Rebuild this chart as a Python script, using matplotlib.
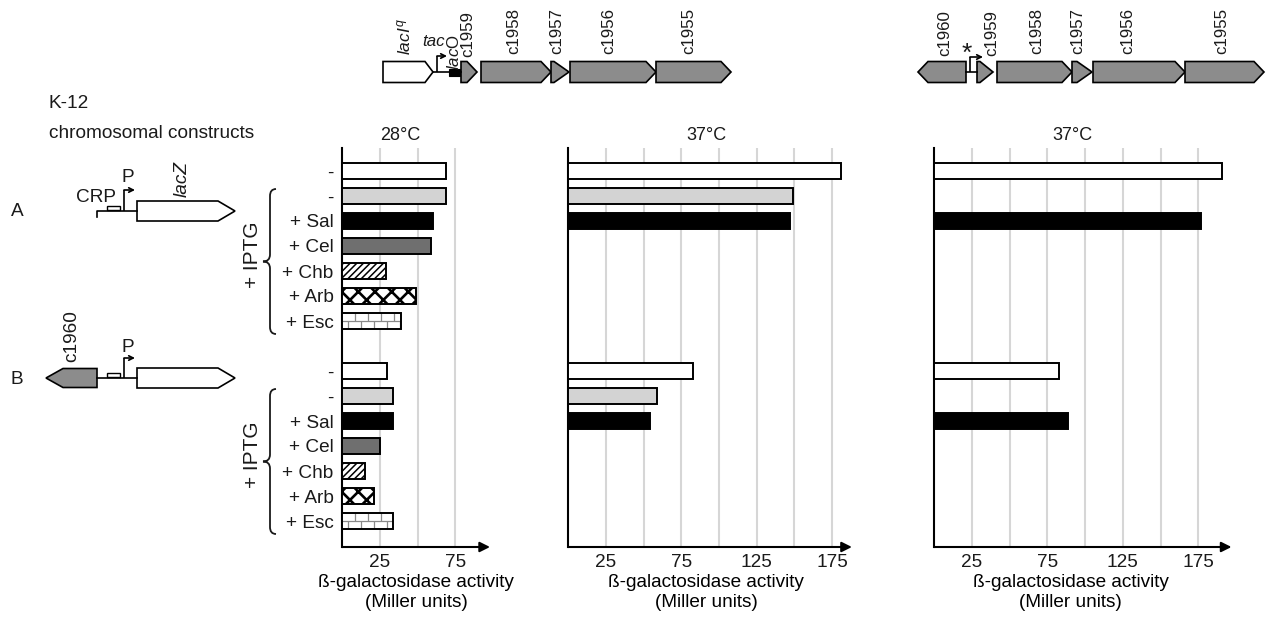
import numpy as np
import matplotlib
matplotlib.use("Agg")
import matplotlib.pyplot as plt
from matplotlib.patches import Polygon, Rectangle, PathPatch
from matplotlib.path import Path

plt.rcParams['font.family'] = ['Liberation Sans', 'DejaVu Sans']
plt.rcParams['mathtext.fontset'] = 'custom'
plt.rcParams['mathtext.rm'] = 'Liberation Sans'
plt.rcParams['mathtext.it'] = 'Liberation Sans:italic'
plt.rcParams['hatch.linewidth'] = 1.3
plt.rcParams['text.color'] = '#1a1a1a'
plt.rcParams['xtick.color'] = '#1a1a1a'
plt.rcParams['ytick.color'] = '#1a1a1a'

# ---- data (beta-galactosidase activity, Miller units) ----
conditions = ['-', '-', '+ Sal', '+ Cel', '+ Chb', '+ Arb', '+ Esc']
k12_28C_A = [69, 69, 60, 59, 29, 49, 39]
k12_28C_B = [30, 34, 34, 25, 15, 21, 34]
k12_37C_A = [181, 149, 147]
k12_37C_B = [83, 59, 54]
c1960_37C_A = [191, np.nan, 177]
c1960_37C_B = [83, np.nan, 89]
tick_values = [25, 75, 125, 175]
grid_values = [25, 50, 75, 100, 125, 150, 175]
panel_titles = ['28°C', '37°C', '37°C']

# ---- styling ----
fills = ['white', '#d3d3d3', 'black', '#6f6f6f', 'white', 'white', 'white']
hatches = [None, None, None, None, '/////', 'xx', 'brick']
hatch_widths = [1.0, 1.0, 1.0, 1.0, 1.1, 1.9, 1.0]
GENE_GRAY = '#8c8c8c'
W, H = 1266, 618
PX_PER_UNIT = 1.51
AX_TOP, AX_BOT = 148, 547
ROW0_PX, ROW_STEP = 171, 25
ROW_B = 8
BAR_H = 0.66
FS = 13.7
GFS = 12.2

fig = plt.figure(figsize=(W / 100, H / 100), dpi=100)


def add_panel(left_px, xmax):
    w = xmax * PX_PER_UNIT
    ax = fig.add_axes([left_px / W, 1 - AX_BOT / H, w / W, (AX_BOT - AX_TOP) / H])
    ax.set_facecolor('none')
    ax.set_xlim(0, xmax)
    top = (AX_TOP - ROW0_PX) / ROW_STEP
    bot = (AX_BOT - ROW0_PX) / ROW_STEP
    ax.set_ylim(bot, top)
    ax.set_xticks([t for t in tick_values if t < xmax])
    ax.set_xticks([g for g in grid_values if g < xmax and g not in tick_values], minor=True)
    ax.grid(axis='x', which='both', color='#d6d6d6', lw=1.5)
    ax.set_axisbelow(True)
    ax.tick_params(axis='x', which='both', length=0, pad=5, labelsize=FS)
    for s in ('top', 'right', 'bottom'):
        ax.spines[s].set_visible(False)
    ax.spines['left'].set_linewidth(1.5)
    ax.annotate('', xy=(1, 0), xytext=(0, 0), xycoords='axes fraction',
                arrowprops=dict(arrowstyle='-|>', color='black', lw=1.5,
                                mutation_scale=15, shrinkA=0, shrinkB=0),
                annotation_clip=False)
    ax.set_xlabel('ß-galactosidase activity\n(Miller units)', fontsize=FS,
                  linespacing=1.22)
    return ax


def draw_bars(ax, values, row0, styles):
    for i, v in enumerate(values):
        if np.isnan(v):
            continue
        k = styles[i]
        y = row0 + i
        if hatches[k] == 'brick':
            ax.barh(y, v, height=BAR_H, color='white', edgecolor='none', zorder=3)
            s = 8.6
            ax.hlines(y, 0, v, color='#8a8a8a', lw=0.9, zorder=3.5)
            ax.vlines(np.arange(s, v, s), y - BAR_H / 2, y, color='#8a8a8a', lw=0.9, zorder=3.5)
            ax.vlines(np.arange(s / 2, v, s), y, y + BAR_H / 2, color='#8a8a8a', lw=0.9, zorder=3.5)
            ax.barh(y, v, height=BAR_H, fill=False, edgecolor='black', lw=1.4, zorder=4)
        else:
            bars = ax.barh(y, v, height=BAR_H, color=fills[k], edgecolor='black', lw=1.4,
                           hatch=hatches[k], zorder=3)
            for p in bars:
                if hasattr(p, 'set_hatch_linewidth'):
                    p.set_hatch_linewidth(hatch_widths[k])


# bar panels
ax1 = add_panel(342, 98)
ax2 = add_panel(568, 188)
ax3 = add_panel(934, 197)
ax1.xaxis.set_label_coords(0.5, -0.068)
ax2.xaxis.set_label_coords(0.486, -0.068)
ax3.xaxis.set_label_coords(0.46, -0.068)

draw_bars(ax1, k12_28C_A, 0, range(7))
draw_bars(ax1, k12_28C_B, ROW_B, range(7))
draw_bars(ax2, k12_37C_A, 0, range(3))
draw_bars(ax2, k12_37C_B, ROW_B, range(3))
draw_bars(ax3, c1960_37C_A, 0, range(3))
draw_bars(ax3, c1960_37C_B, ROW_B, range(3))

rows = list(range(7)) + list(range(ROW_B, ROW_B + 7))
ax1.set_yticks(rows)
ax1.set_yticklabels(conditions + conditions, fontsize=FS)
ax1.tick_params(axis='y', length=0, pad=6)
for a in (ax2, ax3):
    a.set_yticks([])

# ---- schematic layer in pixel coordinates ----
ov = fig.add_axes([0, 0, 1, 1], zorder=-1)
ov.set_xlim(0, W)
ov.set_ylim(H, 0)
ov.axis('off')


def gene(x0, x1, yc, h, tip, fc, left=False):
    tip = min(tip, x1 - x0)
    if left:
        pts = [(x1, yc - h / 2), (x0 + tip, yc - h / 2), (x0, yc),
               (x0 + tip, yc + h / 2), (x1, yc + h / 2)]
    else:
        pts = [(x0, yc - h / 2), (x1 - tip, yc - h / 2), (x1, yc),
               (x1 - tip, yc + h / 2), (x0, yc + h / 2)]
    ov.add_patch(Polygon(pts, closed=True, fc=fc, ec='black', lw=1.2, joinstyle='miter'))


def promoter(x, y0, y1, x_end):
    ov.plot([x, x], [y0, y1], color='black', lw=1.2, solid_capstyle='butt')
    ov.annotate('', xy=(x_end, y1), xytext=(x, y1),
                arrowprops=dict(arrowstyle='->', color='black', lw=1.2,
                                mutation_scale=8, shrinkA=0, shrinkB=0))


def vlabel(x, y, s, size=GFS, **kw):
    ov.text(x, y, s, rotation=90, ha='center', va='bottom', fontsize=size, **kw)


def brace(x_end, x_mid, x_tip, y0, y1):
    ym = (y0 + y1) / 2
    verts = [(x_end, y0), (x_mid, y0), (x_mid, y0 + 7),
             (x_mid, ym - 7), (x_mid, ym), (x_tip, ym),
             (x_mid, ym), (x_mid, ym + 7),
             (x_mid, y1 - 7), (x_mid, y1), (x_end, y1)]
    codes = [Path.MOVETO, Path.CURVE3, Path.CURVE3,
             Path.LINETO, Path.CURVE3, Path.CURVE3,
             Path.CURVE3, Path.CURVE3,
             Path.LINETO, Path.CURVE3, Path.CURVE3]
    ov.add_patch(PathPatch(Path(verts, codes), fc='none', ec='#1a1a1a', lw=1.3))


# operon schematic with lacI^q and tac promoter
yc = 72
gene(383, 433, yc, 21, 8, 'white')
ov.plot([433, 461], [yc, yc], color='black', lw=1.2)
promoter(437, yc, 56, 447)
ov.add_patch(Rectangle((449, yc - 3), 11, 7, fc='black', ec='black', lw=0.8))
gene(461, 477, yc, 21, 10, GENE_GRAY)
gene(481, 551, yc, 21, 10, GENE_GRAY)
gene(551, 569, yc, 21, 15, GENE_GRAY)
gene(570, 656, yc, 21, 10, GENE_GRAY)
gene(656, 731, yc, 21, 10, GENE_GRAY)
vlabel(404, 55, r'$\mathit{lacI}^{\mathit{q}}$', size=12.5)
ov.text(422, 42, 'tac', fontsize=GFS, style='italic', ha='left', va='center')
vlabel(454, 70, r'$\mathit{lac}$O')
vlabel(468, 57, 'c1959')
vlabel(514, 54, 'c1958')
vlabel(557, 54, 'c1957')
vlabel(609, 54, 'c1956')
vlabel(689, 54, 'c1955')

# native operon with c1960
gene(918, 966, yc, 21, 10, GENE_GRAY, left=True)
ov.plot([966, 977], [yc, yc], color='black', lw=1.2)
promoter(970, yc, 57, 983)
ov.text(967, 54, '*', fontsize=19, ha='center', va='center')
gene(977, 993, yc, 21, 13, GENE_GRAY)
gene(997, 1072, yc, 21, 10, GENE_GRAY)
gene(1072, 1092, yc, 21, 15, GENE_GRAY)
gene(1093, 1185, yc, 21, 10, GENE_GRAY)
gene(1185, 1264, yc, 21, 10, GENE_GRAY)
vlabel(945, 56, 'c1960')
vlabel(992, 56, 'c1959')
vlabel(1037, 54, 'c1958')
vlabel(1078, 54, 'c1957')
vlabel(1128, 54, 'c1956')
vlabel(1222, 54, 'c1955')

# left-hand construct annotations
ov.text(49, 103, 'K-12', fontsize=FS, ha='left', va='center')
ov.text(49, 134, 'chromosomal constructs', fontsize=FS, ha='left', va='center')
ov.text(17, 211, 'A', fontsize=FS, ha='center', va='center')
ov.text(17, 379, 'B', fontsize=FS, ha='center', va='center')

# construct A: CRP site, promoter, lacZ
ya = 211
ov.plot([97, 97, 137], [ya + 6, ya, ya], color='black', lw=1.2)
ov.add_patch(Rectangle((107, ya - 5), 13, 4, fc='white', ec='black', lw=1.0))
promoter(124, ya, 190, 135)
gene(137, 235, ya, 20, 17, 'white')
ov.text(96, 197, 'CRP', fontsize=FS, ha='center', va='center')
ov.text(128, 178, 'P', fontsize=FS, ha='center', va='center')
vlabel(182, 197, 'lacZ', size=FS, style='italic')

# construct B: c1960, promoter, lacZ
yb = 378
gene(46, 97, yb, 19, 17, GENE_GRAY, left=True)
ov.plot([97, 137], [yb, yb], color='black', lw=1.2)
ov.add_patch(Rectangle((107, yb - 5), 13, 4, fc='white', ec='black', lw=1.0))
promoter(124, yb, 358, 135)
gene(137, 235, yb, 20, 17, 'white')
ov.text(128, 347, 'P', fontsize=FS, ha='center', va='center')
vlabel(72, 362, 'c1960', size=FS)

# IPTG braces
for shift in (0, 200):
    brace(276, 270, 263, 189 + shift, 334 + shift)
    ov.text(252, 255 + shift, '+ IPTG', rotation=90, fontsize=15, ha='center', va='center')

# temperature headers
ov.text(400, 135, panel_titles[0], fontsize=13, ha='center', va='center')
ov.text(706, 135, panel_titles[1], fontsize=13, ha='center', va='center')
ov.text(1072, 135, panel_titles[2], fontsize=13, ha='center', va='center')

fig.savefig('out.png', dpi=100, facecolor='white')
